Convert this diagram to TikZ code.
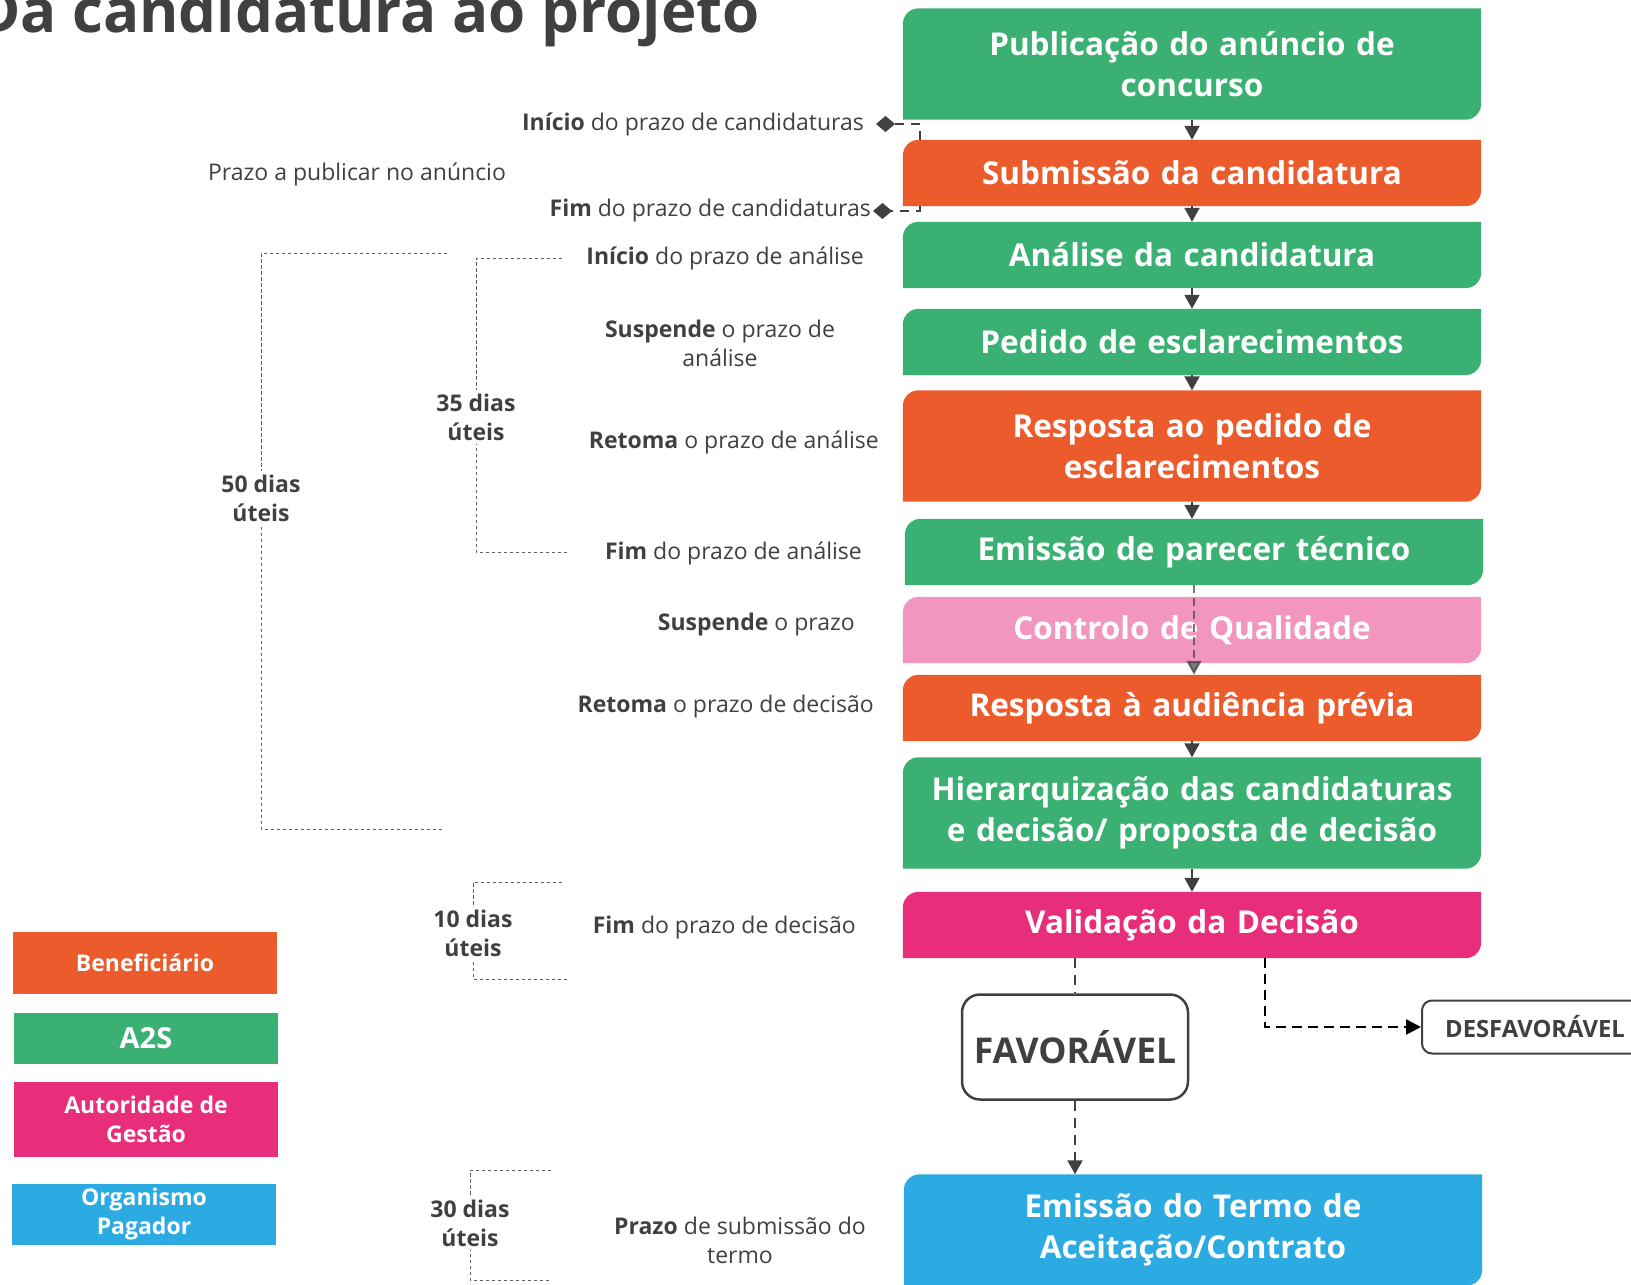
\documentclass[tikz,border=0pt]{standalone}
\usepackage{fontspec}
\setmainfont{Open Sans}
\usepackage{xcolor}
\usetikzlibrary{arrows.meta, positioning, backgrounds, calc}

\definecolor{verde}{HTML}{3AB073}
\definecolor{laranja}{HTML}{EC5B2B}
\definecolor{rosa}{HTML}{F295BF}
\definecolor{fucsia}{HTML}{E82E7B}
\definecolor{azul}{HTML}{2CABE3}
\definecolor{cinza}{HTML}{404040}
\definecolor{tracado}{HTML}{606060}

% stage background: rounded top left and bottom right corners (y points down)
\newcommand{\stagefill}[2]{%
  \fill[#2] (#1.south west) -- ($(#1.north west)+(0,16)$)
    .. controls ($(#1.north west)+(0,7)$) and ($(#1.north west)+(7,0)$) .. ($(#1.north west)+(16,0)$)
    -- (#1.north east) -- ($(#1.south east)+(0,-16)$)
    .. controls ($(#1.south east)+(0,-7)$) and ($(#1.south east)+(-7,0)$) .. ($(#1.south east)+(-16,0)$)
    -- cycle;}

\begin{document}
\begin{tikzpicture}[
    x=1pt, y=-1pt,
    every node/.style={align=center, text=cinza},
    stage/.style={minimum width=578pt, text width=566pt, inner sep=0pt,
      text=white, font=\bfseries\fontsize{31.5}{41}\selectfont},
    single/.style={stage, minimum height=66pt},
    double/.style={stage, minimum height=111pt},
    legend/.style={minimum width=264pt, inner sep=0pt, text=white,
      font=\bfseries\fontsize{23}{29}\selectfont},
    note/.style={font=\fontsize{23}{29}\selectfont, inner sep=2pt},
    span/.style={font=\bfseries\fontsize{23}{29}\selectfont, inner sep=3pt},
    bracket/.style={draw=tracado, line width=1pt, dash pattern=on 3.5pt off 2.5pt},
    arrow/.style={draw=cinza, line width=2pt, -{Triangle[length=14pt,width=15pt]}},
    milestone/.style={draw=cinza, line width=2pt, dash pattern=on 9pt off 7pt,
      -{Diamond[length=19pt,width=16pt]}},
    decision/.style={draw=cinza, line width=2pt, dash pattern=on 10pt off 7pt},
    reject/.style={draw=black, line width=2.5pt, dash pattern=on 10pt off 6pt,
      -{Triangle[length=15pt,width=15pt]}},
    choice/.style={draw=cinza, line width=2.5pt, fill=white, rounded corners=18pt,
      inner sep=0pt, font=\bfseries\fontsize{35.5}{40}\selectfont}
  ]
  \useasboundingbox (0,0) rectangle (1631,1285);

  % Title
  \node[anchor=base east, inner sep=0pt, font=\bfseries\fontsize{60}{66}\selectfont] (title) at (760,32) {Da candidatura ao projeto};

  % Stages
  \node[double] (pub) at (1192,64) {Publicação do anúncio de\\concurso};
  \node[single] (sub) at (1192,173) {Submissão da candidatura};
  \node[single] (ana) at (1192,255) {Análise da candidatura};
  \node[single] (ped) at (1192,342) {Pedido de esclarecimentos};
  \node[double] (resp) at (1192,446) {Resposta ao pedido de\\esclarecimentos};
  \node[single] (par) at (1194,552) {Emissão de parecer técnico};
  \node[single] (cq) at (1192,630) {Controlo de Qualidade};
  \node[single] (aud) at (1192,708) {Resposta à audiência prévia};
  \node[double] (hier) at (1192,813) {Hierarquização das candidaturas\\e decisão/ proposta de decisão};
  \node[single] (val) at (1192,925) {Validação da Decisão};
  \node[double] (termo) at (1193,1230) {Emissão do Termo de\\Aceitação/Contrato};

  \begin{scope}[on background layer]
    \foreach \n/\c in {pub/verde, sub/laranja, ana/verde, ped/verde, resp/laranja,
        par/verde, cq/rosa, aud/laranja, hier/verde, val/fucsia, termo/azul}
      {\stagefill{\n}{\c}}
  \end{scope}

  % Decision outcomes
  \node[choice, minimum width=226pt, minimum height=105pt] (fav) at (1075,1047) {FAVORÁVEL};
  \node[choice, minimum width=226pt, minimum height=53pt, rounded corners=10pt, line width=2pt,
    font=\bfseries\fontsize{23.8}{28}\selectfont] (des) at (1535,1027) {DESFAVORÁVEL};

  % Legend
  \node[legend, fill=laranja, minimum height=62pt] (lben) at (145,963) {Beneficiário};
  \node[legend, fill=verde, minimum height=51pt, font=\bfseries\fontsize{29}{33}\selectfont] (la2s) at (146,1038) {A2S};
  \node[legend, fill=fucsia, minimum height=75pt] (lag) at (146,1119) {Autoridade de\\Gestão};
  \node[legend, fill=azul, minimum height=61pt] (lop) at (144,1214) {Organismo\\Pagador};

  % Deadlines
  \coordinate (dc1) at (876,124);
  \coordinate (dc2) at (873,211);
  \node[note, left=10pt of dc1] (icand) {\textbf{Início} do prazo de candidaturas};
  \node[note, left=0pt of dc2] (fcand) {\textbf{Fim} do prazo de candidaturas};
  \node[note] (ppub) at (357,174) {Prazo a publicar no anúncio};
  \node[note, anchor=east] (iana) at (866,258) {\textbf{Início} do prazo de análise};
  \node[note] (sana) at (720,343) {\textbf{Suspende} o prazo de\\análise};
  \node[note, anchor=east] (rana) at (881,442) {\textbf{Retoma} o prazo de análise};
  \node[note, anchor=east] (fana) at (864,553) {\textbf{Fim} do prazo de análise};
  \node[note, anchor=east] (sdec) at (857,625) {\textbf{Suspende} o prazo};
  \node[note, anchor=east] (rdec) at (876,707) {\textbf{Retoma} o prazo de decisão};
  \node[note, anchor=east] (fdec) at (858,928) {\textbf{Fim} do prazo de decisão};
  \node[note] (pterm) at (740,1240) {\textbf{Prazo} de submissão do\\termo};

  % Working days
  \node[span] (d50) at (261,498) {50 dias\\úteis};
  \node[span] (d35) at (476,417) {35 dias\\úteis};
  \node[span] (d10) at (473,933) {10 dias\\úteis};
  \node[span] (d30) at (470,1223) {30 dias\\úteis};
  \coordinate (t50) at (447,253);
  \coordinate (b50) at (442,829);
  \coordinate (t35) at (562,258);
  \coordinate (b35) at (567,552);
  \coordinate (t10) at (562,882);
  \coordinate (b10) at (567,979);
  \coordinate (t30) at (551,1170);
  \coordinate (b30) at (549,1280);
  \foreach \d in {50,35,10,30} {
    \draw[bracket] (t\d) -| (d\d.north);
    \draw[bracket] (b\d) -| (d\d.south);
  }

  % Arrows
  \foreach \a/\b in {pub/sub, sub/ana, ana/ped, ped/resp, resp/par, aud/hier, hier/val}
    \draw[arrow] (\a.south) -- (\a.south |- \b.north);
  \draw[arrow, dash pattern=on 8pt off 5pt, opacity=0.7] (par.south) -- (par.south |- aud.north);
  \draw[milestone] ([xshift=17pt]sub.north west) |- (dc1);
  \draw[milestone] ([xshift=17pt]sub.south west) |- (dc2);
  \draw[decision] (val.south -| fav.north) -- (fav.north);
  \draw[decision, -{Triangle[length=14pt,width=15pt]}] (fav.south) -- (fav.south |- termo.north);
  \draw[reject] ([xshift=73pt]val.south) |- (des.west);
\end{tikzpicture}
\end{document}
